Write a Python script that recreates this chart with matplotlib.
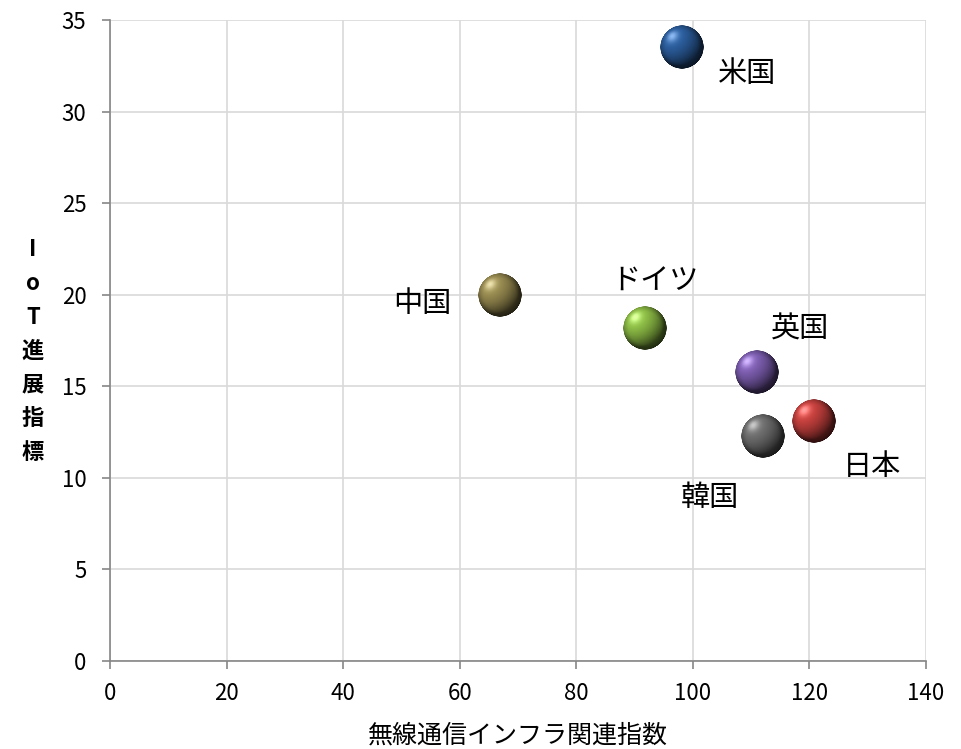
#!/usr/bin/env python3

# IoT progress index against wireless infrastructure index, by country.

import matplotlib
matplotlib.use("Agg")
import matplotlib.pyplot as plt
import matplotlib.colors as mcolors
from matplotlib.offsetbox import OffsetImage, AnnotationBbox
import numpy as np

plt.rcParams["font.family"] = ["Noto Sans CJK JP", "DejaVu Sans"]

countries = ["米国", "中国", "ドイツ", "英国", "日本", "韓国"]
infra_index = [98.1, 66.9, 91.8, 111.0, 120.8, 112.0]
iot_index = [33.5, 20.0, 18.2, 15.8, 13.1, 12.3]

colors = ["#2b5d9c", "#978a50", "#8cbb45", "#7c5daf", "#c4403d", "#6e6e6e"]
# label offsets from each bubble, in points
label_offsets = [(47, -19), (-56, -7), (7, 33), (31, 30), (42, -33), (-38, -45)]

X_TICKS = np.arange(0, 141, 20)
Y_TICKS = np.arange(0, 36, 5)
BUBBLE_PX = 44


# Render a shaded ball as an RGBA array.
def sphere_image(color, size=120):
    rgb = np.array(mcolors.to_rgb(color))
    t = np.linspace(-1, 1, size)
    xx, yy = np.meshgrid(t, -t)
    rr = xx ** 2 + yy ** 2
    r = np.sqrt(rr)
    zz = np.sqrt(np.clip(1 - rr, 0, 1))

    light = np.array([-0.45, 0.5, 0.74])
    light /= np.linalg.norm(light)
    diff = np.clip(xx * light[0] + yy * light[1] + zz * light[2], 0, 1)
    spec = diff ** 25

    shade = 0.35 + 0.75 * diff
    img = rgb[None, None, :] * shade[..., None]
    img += spec[..., None] * 0.4 * (1 - rgb[None, None, :] * 0.5)
    # darker rim toward the lower right
    rim = np.clip((r - 0.75) / 0.25, 0, 1) * np.clip(0.5 - 0.5 * (xx * light[0] + yy * light[1]) / np.maximum(r, 1e-6), 0, 1)
    img *= (1 - 0.45 * rim)[..., None]
    img = np.clip(img, 0, 1)

    alpha = np.clip((1 - r) * size / 2, 0, 1)
    return np.dstack([img, alpha])


def main():
    fig = plt.figure(figsize=(9.62, 7.49), dpi=100)
    ax = fig.add_axes([110 / 962, 88 / 749, 816 / 962, 641 / 749])

    ax.set_xlim(0, 140)
    ax.set_ylim(0, 35)
    ax.set_xticks(X_TICKS)
    ax.set_yticks(Y_TICKS)
    ax.grid(True, color="#d9d9d9", linewidth=1.2)
    ax.set_axisbelow(True)

    for side in ["top", "right"]:
        ax.spines[side].set_visible(False)
    for side in ["left", "bottom"]:
        ax.spines[side].set_color("#868686")
        ax.spines[side].set_linewidth(1.2)

    ax.tick_params(axis="both", colors="#868686", labelcolor="black",
                   labelsize=16, length=6, width=1.2)
    ax.tick_params(axis="x", pad=9)
    ax.tick_params(axis="y", pad=11)

    for name, xv, yv, col, off in zip(countries, infra_index, iot_index,
                                      colors, label_offsets):
        img = sphere_image(col)
        box = OffsetImage(img, zoom=BUBBLE_PX / img.shape[0], dpi_cor=False)
        ab = AnnotationBbox(box, (xv, yv), frameon=False, pad=0)
        ax.add_artist(ab)
        ax.annotate(name, (xv, yv), xytext=off, textcoords="offset points",
                    ha="center", va="center", fontsize=21)

    ax.set_xlabel("無線通信インフラ関連指数", fontsize=18, labelpad=13)
    fig.text(33 / 962, 1 - 351 / 749, "I\no\nT\n進\n展\n指\n標",
             ha="center", va="center", fontsize=16, fontweight="bold",
             linespacing=1.6)

    fig.savefig("out.png", dpi=100)


if __name__ == "__main__":
    main()
